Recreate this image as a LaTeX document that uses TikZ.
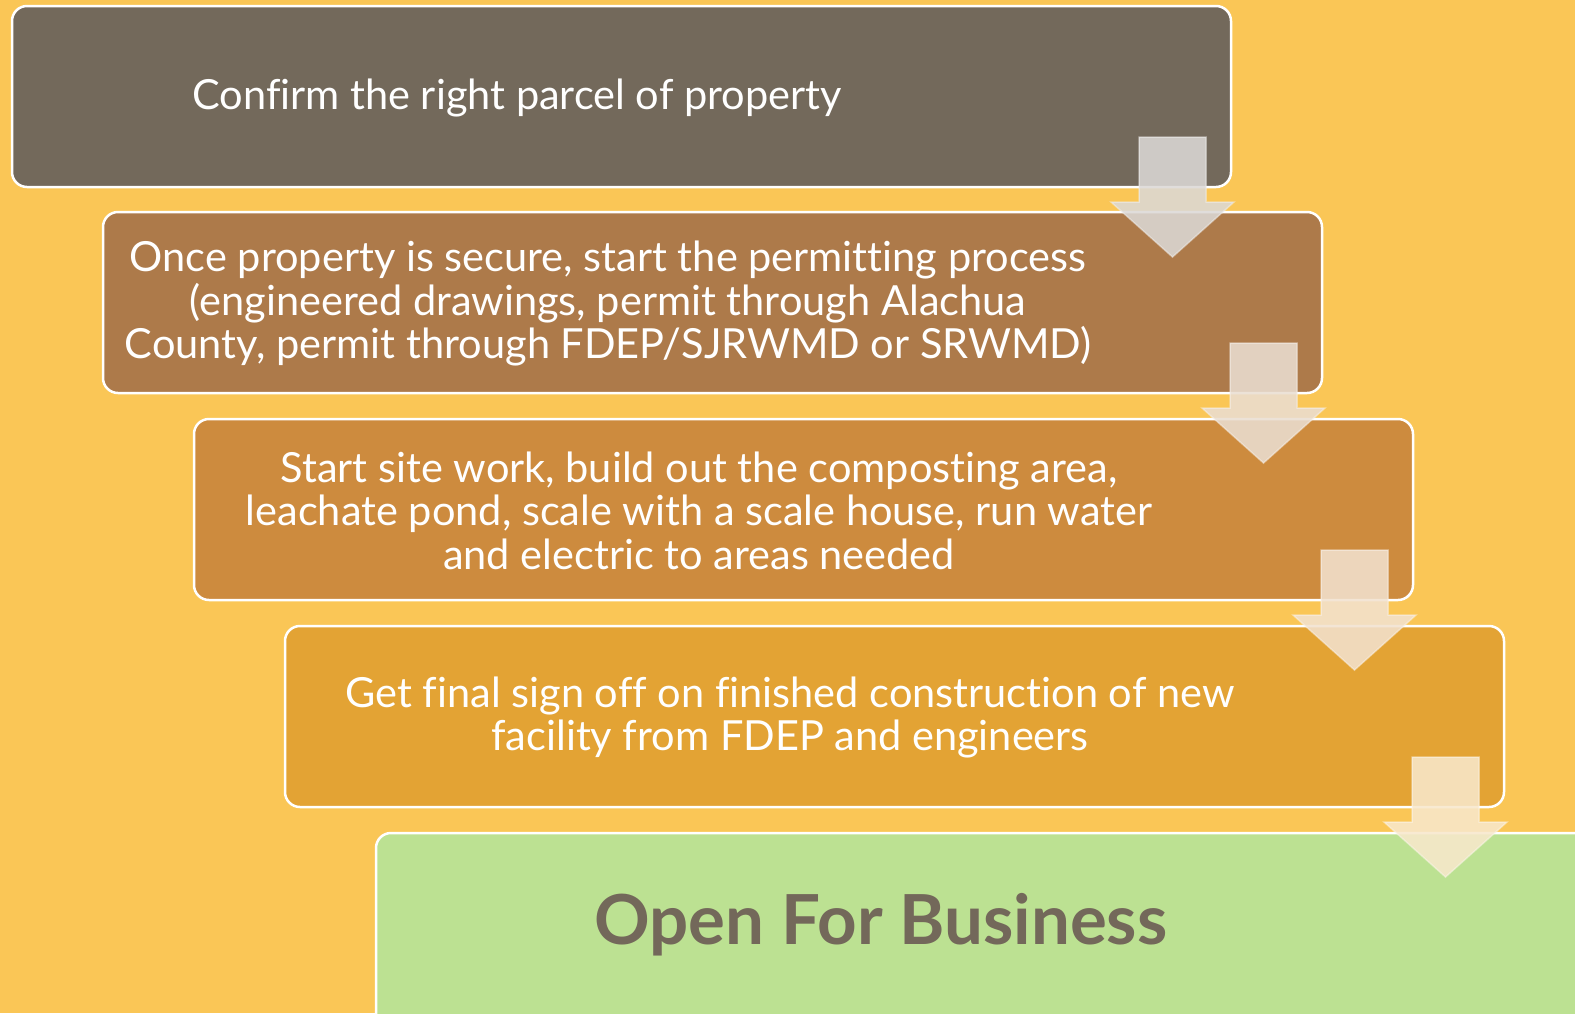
\documentclass[tikz,border=0pt]{standalone}
\usepackage{fontspec}
\setmainfont[Ligatures={NoCommon}]{Lato}
\definecolor{bg}{RGB}{250,198,86}
\definecolor{cA}{RGB}{115,105,91}
\definecolor{cB}{RGB}{173,122,74}
\definecolor{cC}{RGB}{205,139,62}
\definecolor{cD}{RGB}{227,163,52}
\definecolor{cE}{RGB}{188,225,146}
\definecolor{tx}{RGB}{115,104,90}
\begin{document}
\begin{tikzpicture}[x=1pt,y=-1pt,
  stepbox/.style={draw=white, line width=2.5pt, rounded corners=15pt, minimum width=1219pt, minimum height=181pt, inner sep=0pt, outer sep=0pt},
  txt/.style={text=white, align=center, font=\fontsize{41.5}{43.5}\selectfont, inner sep=0pt},
  arr/.style={fill opacity=0.87, draw opacity=0.5, line width=1.5pt, line join=miter}]
\fill[bg] (0,0) rectangle (1575,1013);
\useasboundingbox (0,0) rectangle (1575,1013);
% boxes
\node[stepbox, fill=cA] (b1) at (621.5,96.5) {};
\node[stepbox, fill=cB] (b2) at (712.5,302.5) {};
\node[stepbox, fill=cC] (b3) at (803.5,509.5) {};
\node[stepbox, fill=cD] (b4) at (894.5,716.5) {};
\node[stepbox, fill=cE, anchor=north west, minimum width=1400pt, minimum height=400pt] (b5) at (376,833) {};
% texts
\node[txt] (t1) at (517,98) {Confirm the right parcel of property};
\node[txt] (t2) at (608,303.5) {Once property is secure, start the permitting process\\(engineered drawings, permit through Alachua\\County, permit through FDEP/SJRWMD or SRWMD)};
\node[txt] (t3) at (699,510.5) {Start site work, build out the composting area,\\leachate pond, scale with a scale house, run water\\and electric to areas needed};
\node[txt] (t4) at (790,717.5) {Get final sign off on finished construction of new\\facility from FDEP and engineers};
\node[text=tx, font=\fontsize{69}{72}\selectfont\bfseries, inner sep=0pt] (t5) at (881,925) {Open For Business};
% arrows
\foreach \b/\c in {b1/cA,b2/cB,b3/cC,b4/cD}{
  \begin{scope}[shift={(\b.north east)}]
    \path[arr, fill=\c!25!white, draw=\c!10!white]
      (-92,131) -- (-25,131) -- (-25,196) -- (3,196) -- (-58.5,251) -- (-120,196) -- (-92,196) -- cycle;
  \end{scope}
}
\end{tikzpicture}
\end{document}
